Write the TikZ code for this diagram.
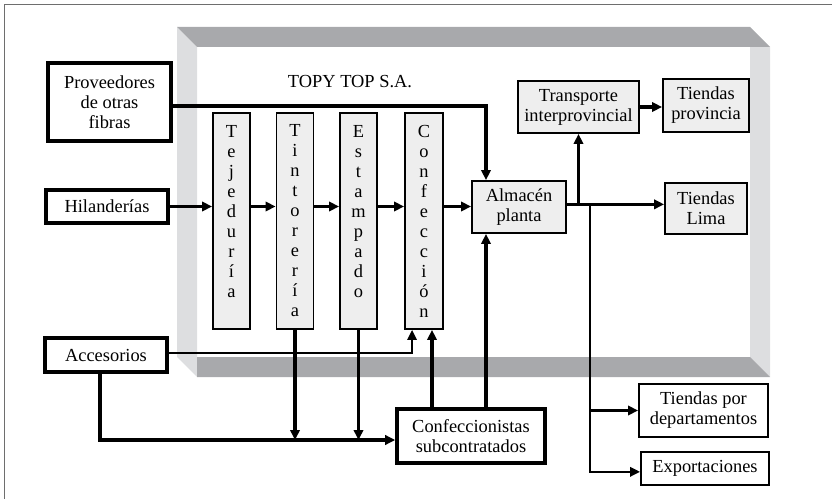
\documentclass[tikz,border=0pt]{standalone}
\usepackage{fontspec}
\setmainfont{Liberation Serif}
\newfontfamily\diagfont{Liberation Serif}
\usetikzlibrary{arrows.meta}
\definecolor{bandDark}{RGB}{168,169,172}
\definecolor{bandLight}{RGB}{221,222,224}
\definecolor{boxFill}{RGB}{238,238,238}
\definecolor{frameGray}{RGB}{110,110,110}

\begin{document}
\begin{tikzpicture}[x=0.75pt, y=-0.75pt,
    font=\diagfont\fontsize{13.8}{15}\selectfont,
    extbox/.style={draw, line width=2.7pt, fill=white, align=center, inner sep=0pt},
    inbox/.style={draw, line width=1.4pt, fill=boxFill, align=center, inner sep=0pt},
    outbox/.style={draw, line width=1.4pt, fill=white, align=center, inner sep=0pt},
    stage/.style={inbox, minimum width=27.75pt, minimum height=162pt},
    flow/.style={line width=2.3pt, -{Triangle[length=7.5pt,width=7pt]}},
    thinflow/.style={line width=1.7pt, -{Triangle[length=7.5pt,width=7pt]}}]
    \useasboundingbox (0,0) rectangle (832,499);
    \draw[frameGray, line width=1.1pt] (4.5,499) -- (4.5,4.5) -- (832,4.5);

    % plant frame
    \fill[bandLight] (177,27) -- (197,47) -- (197,377) -- (177,357) -- cycle;
    \fill[bandLight] (750,47) -- (770,47) -- (770,377) -- (750,357) -- cycle;
    \fill[bandDark] (177,27) -- (750,27) -- (770,47) -- (197,47) -- cycle;
    \fill[bandDark] (197,357) -- (750,357) -- (770,377) -- (197,377) -- cycle;
    \node (topy) at (350,82) {TOPY TOP S.A.};

    % suppliers
    \node[extbox, minimum width=92.25pt, minimum height=58.5pt] (prov) at (109.5,102) {Proveedores\\de otras\\fibras};
    \node[extbox, minimum width=91.5pt, minimum height=24.75pt] (hil) at (107,206.5) {Hilanderías};
    \node[extbox, minimum width=91.5pt, minimum height=25.5pt] (acc) at (106,355) {Accesorios};
    \node[extbox, minimum width=111pt, minimum height=40.5pt] (consub) at (471,436) {Confeccionistas\\subcontratados};

    % stages
    \node[stage] (tej) at (231.5,221) {T\\e\\j\\e\\d\\u\\r\\í\\a\\\mbox{}};
    \node[stage] (tin) at (295,221) {T\\i\\n\\t\\o\\r\\e\\r\\í\\a};
    \node[stage] (est) at (358.5,221) {E\\s\\t\\a\\m\\p\\a\\d\\o\\\mbox{}};
    \node[stage, minimum width=28.5pt] (conf) at (424,221) {C\\o\\n\\f\\e\\c\\c\\i\\ó\\n};
    \node[inbox, minimum width=70.5pt, minimum height=39pt] (alm) at (519,207) {Almacén\\planta};

    % distribution
    \node[inbox, minimum width=90.75pt, minimum height=39pt] (trans) at (578.5,107) {Transporte\\interprovincial};
    \node[inbox, minimum width=64.5pt, minimum height=39.75pt] (tprov) at (706,105.5) {Tiendas\\provincia};
    \node[inbox, minimum width=61.5pt, minimum height=38.25pt] (tlima) at (706,208.5) {Tiendas\\Lima};
    \node[outbox, minimum width=96.75pt, minimum height=39.75pt] (tdep) at (703.5,410.5) {Tiendas por\\departamentos};
    \node[outbox, minimum width=96pt, minimum height=24.75pt] (exp) at (705,468.5) {Exportaciones};

    \coordinate (cin) at ([xshift=6pt]conf.south);
    \coordinate (ain) at ([xshift=-24.75pt]alm.south);
    \coordinate (merge) at ([yshift=-3pt]consub.west);
    \coordinate (out) at ([yshift=2pt]alm.east);
    \coordinate (split) at (590,204);

    \draw[flow] (hil.east) -- (hil.east -| tej.west);
    \draw[flow] (tej.east |- hil.east) -- (tin.west |- hil.east);
    \draw[flow] (tin.east |- hil.east) -- (est.west |- hil.east);
    \draw[flow] (est.east |- hil.east) -- (conf.west |- hil.east);
    \draw[flow] (conf.east |- hil.east) -- (alm.west |- hil.east);
    \draw[flow] ([yshift=-3pt]prov.east) -| (alm.north -| ain);
    \draw[thinflow] ([yshift=1.5pt]acc.east) -| ([xshift=6pt]conf.south west);
    \draw[flow] ([xshift=-4.5pt]acc.south) |- (merge);
    \draw[flow] (tin.south) -- (tin.south |- merge);
    \draw[flow] (est.south) -- (est.south |- merge);
    \draw[flow] (consub.north -| cin) -- (cin);
    \draw[flow] (consub.north -| ain) -- (ain);

    \draw[flow] (out) -- (out -| tlima.west);
    \draw[flow] (out -| trans.south) -- (trans.south);
    \draw[flow] (trans.east) -- (trans.east -| tprov.west);
    \draw[thinflow] (split) |- (tdep.west);
    \draw[thinflow] (split) |- ([yshift=-2.5pt]exp.west);
\end{tikzpicture}
\end{document}
